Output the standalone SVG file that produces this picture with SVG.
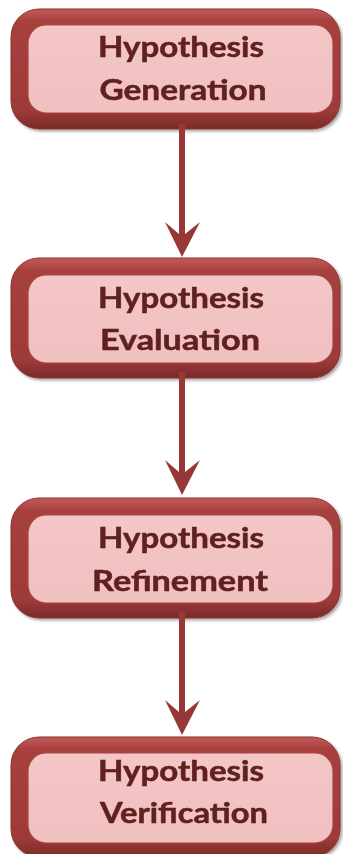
<svg xmlns="http://www.w3.org/2000/svg" width="343" height="854" viewBox="0 0 343 854">
  <defs>
    <linearGradient id="ring" x1="0" y1="0" x2="0" y2="1">
      <stop offset="0" stop-color="#c25c59"/>
      <stop offset="0.1" stop-color="#a8403e"/>
      <stop offset="0.85" stop-color="#9c3a38"/>
      <stop offset="1" stop-color="#7a2b29"/>
    </linearGradient>
    <linearGradient id="fill" x1="0" y1="0" x2="0" y2="1">
      <stop offset="0" stop-color="#f4c6c6"/>
      <stop offset="1" stop-color="#f1c0c0"/>
    </linearGradient>
    <filter id="sh" x="-5%" y="-5%" width="112%" height="120%">
      <feGaussianBlur in="SourceAlpha" stdDeviation="1.5"/>
      <feOffset dx="1.5" dy="2" result="o"/>
      <feComponentTransfer><feFuncA type="linear" slope="0.35"/></feComponentTransfer>
      <feMerge><feMergeNode/><feMergeNode in="SourceGraphic"/></feMerge>
    </filter>
  </defs>
  <style>
    .outer { fill: url(#ring); stroke: #8a3230; stroke-width: 1; }
    .inner { fill: url(#fill); stroke: #a94543; stroke-width: 1.2; }
    .lbl { font-family: Lato, "Liberation Sans", sans-serif; font-weight: bold; font-size: 28px; fill: #5f201f; text-anchor: middle; stroke: #5f201f; stroke-width: 0.5; }
    .arrow { fill: #963836; }
  </style>

  <g id="node-generation" filter="url(#sh)">
    <rect class="outer" x="11" y="9" width="329" height="120" rx="28"/>
    <rect class="inner" x="28" y="25" width="305" height="88" rx="18"/>
    <text class="lbl" x="181" y="57" textLength="166" lengthAdjust="spacingAndGlyphs">Hypothesis</text>
    <text class="lbl" x="183" y="100" textLength="167" lengthAdjust="spacingAndGlyphs">Generation</text>
  </g>

  <g id="node-evaluation" filter="url(#sh)">
    <rect class="outer" x="11" y="258" width="329" height="120" rx="28"/>
    <rect class="inner" x="28" y="275" width="305" height="88" rx="18"/>
    <text class="lbl" x="181" y="308" textLength="166" lengthAdjust="spacingAndGlyphs">Hypothesis</text>
    <text class="lbl" x="180" y="350" textLength="160" lengthAdjust="spacingAndGlyphs">Evaluation</text>
  </g>

  <g id="node-refinement" filter="url(#sh)">
    <rect class="outer" x="11" y="498" width="329" height="120" rx="28"/>
    <rect class="inner" x="28" y="515" width="305" height="88" rx="18"/>
    <text class="lbl" x="181" y="548" textLength="166" lengthAdjust="spacingAndGlyphs">Hypothesis</text>
    <text class="lbl" x="180" y="591" textLength="176" lengthAdjust="spacingAndGlyphs">Refinement</text>
  </g>

  <g id="node-verification" filter="url(#sh)">
    <rect class="outer" x="11" y="737" width="329" height="120" rx="28"/>
    <rect class="inner" x="28" y="753" width="305" height="90" rx="18"/>
    <text class="lbl" x="181" y="781" textLength="166" lengthAdjust="spacingAndGlyphs">Hypothesis</text>
    <text class="lbl" x="184" y="823" textLength="168" lengthAdjust="spacingAndGlyphs">Verification</text>
  </g>

  <g id="connectors">
    <polygon class="arrow" points="179,124 179,234 165,222 182,257 200,222 185,234 185,124"/>
    <polygon class="arrow" points="179,372 179,472 165,460 182,495 200,460 185,472 185,372"/>
    <polygon class="arrow" points="179,612 179,712 165,700 182,735 200,700 185,712 185,612"/>
  </g>
</svg>
